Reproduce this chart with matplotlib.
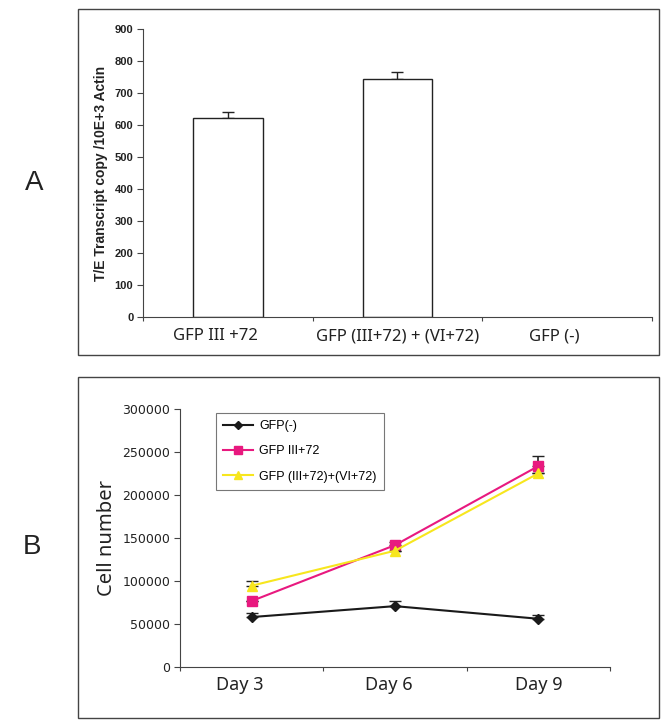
import numpy as np
import matplotlib.pyplot as plt
from matplotlib.patches import Rectangle

# Panel A data
groups_a = ["GFP III +72", "GFP (III+72) + (VI+72)", "GFP (-)"]
transcript = [622, 745, 0]
transcript_err = [19, 21, 0]

# Panel B data
days = ["Day 3", "Day 6", "Day 9"]
gfp_neg = [57800, 70500, 55800]
gfp_neg_err = [4500, 6000, 4500]
gfp_iii = [76500, 141500, 233500]
gfp_iii_err = [0, 4000, 11500]
gfp_combo = [94300, 135000, 225000]
gfp_combo_err = [5800, 0, 0]

fig = plt.figure(figsize=(6.66, 7.25), dpi=100)

# frames around the two panels
for y0, h in [(0.5103, 0.4772), (0.0097, 0.470)]:
    fig.patches.append(Rectangle((0.117, y0), 0.873, h, transform=fig.transFigure,
                                 fill=False, edgecolor="#444444", linewidth=1.0))

fig.text(0.038, 0.748, "A", fontsize=20, family="Liberation Sans", color="#222222", va="center")
fig.text(0.034, 0.245, "B", fontsize=20, family="Liberation Sans", color="#222222", va="center")

# ---- Panel A ----
ax1 = fig.add_axes([0.2147, 0.5628, 0.764, 0.3968])
x = np.arange(len(groups_a))
bars = ax1.bar(x, transcript, width=0.41, color="white", edgecolor="#222222", linewidth=1.0, zorder=2)
for b, v in zip(bars, transcript):
    if v == 0:
        b.set_visible(False)
ax1.errorbar(x[:2], transcript[:2], yerr=[[0, 0], transcript_err[:2]], fmt="none",
             ecolor="#222222", elinewidth=1.0, capsize=4, zorder=1)
ax1.set_xlim(-0.5, 2.5)
ax1.set_ylim(0, 900)
ax1.set_yticks(np.arange(0, 901, 100))
ax1.set_xticks([-0.5, 0.5, 1.5, 2.5])
ax1.set_xticklabels([])
ax1.set_xticks(x + np.array([-0.07, 0.0, -0.075]), minor=True)
ax1.set_xticklabels(groups_a, minor=True, fontsize=12, family="Noto Sans", color="#222222")
ax1.tick_params(axis="x", which="minor", length=0, pad=8)
ax1.tick_params(axis="x", which="major", length=3, color="#444444")
ax1.tick_params(axis="y", length=4, color="#444444", labelsize=8, pad=3)
for lab in ax1.get_yticklabels():
    lab.set_fontweight("bold")
    lab.set_family("Liberation Sans")
    lab.set_color("#222222")
ax1.set_ylabel("T/E Transcript copy /10E+3 Actin", fontsize=10, fontweight="bold",
               family="Liberation Sans", color="#222222", labelpad=5)
for s in ["top", "right"]:
    ax1.spines[s].set_visible(False)
for s in ["left", "bottom"]:
    ax1.spines[s].set_color("#444444")

# ---- Panel B ----
ax2 = fig.add_axes([0.2703, 0.0804, 0.6456, 0.3555])
xd = np.arange(len(days))
series = [
    (gfp_neg, gfp_neg_err, "#1a1a1a", "D", 5, "GFP(-)"),
    (gfp_iii, gfp_iii_err, "#e8197f", "s", 7, "GFP III+72"),
    (gfp_combo, gfp_combo_err, "#f7e61e", "^", 7, "GFP (III+72)+(VI+72)"),
]
for vals, err, col, mk, ms, lab in series:
    ax2.errorbar(xd, vals, yerr=[[0] * 3, err], fmt="none", ecolor="#222222",
                 elinewidth=1.2, capsize=4)
    ax2.plot(xd, vals, color=col, marker=mk, markersize=ms, linewidth=1.5, label=lab)
ax2.set_xlim(-0.5, 2.5)
ax2.set_ylim(0, 300000)
ax2.set_yticks(np.arange(0, 300001, 50000))
ax2.set_xticks([-0.5, 0.5, 1.5, 2.5])
ax2.set_xticklabels([])
ax2.set_xticks(xd + np.array([-0.08, -0.04, 0.0]), minor=True)
ax2.set_xticklabels(days, minor=True, fontsize=13, family="Noto Sans", color="#222222")
ax2.tick_params(axis="x", which="minor", length=0, pad=7)
ax2.tick_params(axis="x", which="major", length=3, color="#444444")
ax2.tick_params(axis="y", length=4, color="#444444", labelsize=9, pad=3)
for lab in ax2.get_yticklabels():
    lab.set_family("Liberation Sans Narrow")
    lab.set_color("#222222")
ax2.set_ylabel("Cell number", fontsize=14.5, family="Noto Sans", color="#222222", labelpad=4)
for s in ["top", "right"]:
    ax2.spines[s].set_visible(False)
for s in ["left", "bottom"]:
    ax2.spines[s].set_color("#444444")

leg = ax2.legend(loc="upper left", bbox_to_anchor=(0.083, 0.985),
                 frameon=True, fancybox=False, edgecolor="#555555",
                 handlelength=2.4, handletextpad=0.5, labelspacing=1.05, borderpad=0.6,
                 borderaxespad=0, markerscale=0.75,
                 prop={"family": "Liberation Sans", "size": 9})
leg.get_frame().set_linewidth(0.8)

fig.savefig("out.png", dpi=100)
